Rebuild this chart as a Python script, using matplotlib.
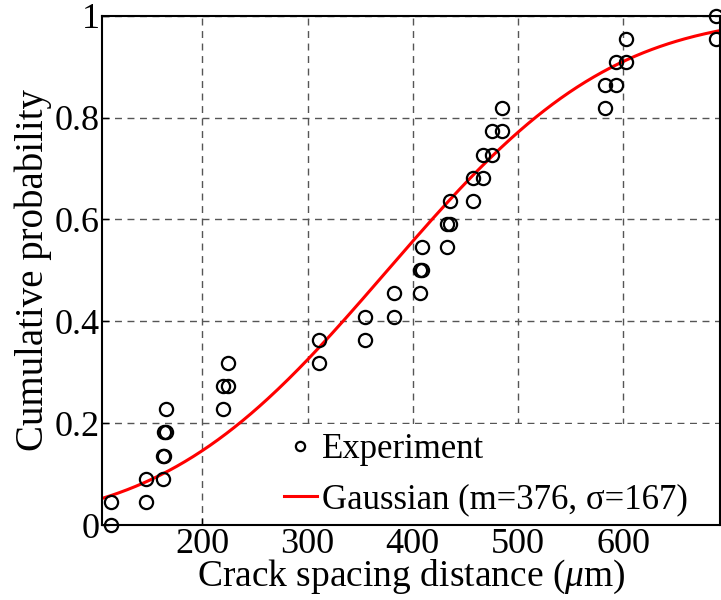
import math
import numpy as np
import matplotlib
matplotlib.use('Agg')
import matplotlib.pyplot as plt

# Empirical CDF points (each crack spacing appears at the step below and above)
crack_x = [113.5, 146.8, 162.9, 163.9, 165.8, 220.0, 224.7, 311.2, 355.0, 382.5, 407.2,
           409.1, 432.9, 435.7, 457.6, 467.1, 475.7, 485.2, 583.1, 593.5, 603.0, 688.6]
prob_lo = [0.000, 0.045, 0.091, 0.136, 0.182, 0.227, 0.273, 0.318, 0.364, 0.409, 0.455,
           0.500, 0.545, 0.591, 0.636, 0.682, 0.727, 0.773, 0.818, 0.864, 0.909, 0.955]
prob_hi = [0.045, 0.091, 0.136, 0.182, 0.227, 0.273, 0.318, 0.364, 0.409, 0.455, 0.500,
           0.545, 0.591, 0.636, 0.682, 0.727, 0.773, 0.818, 0.864, 0.909, 0.955, 1.000]

# Gaussian fit parameters
mean_fit = 376
sigma_fit = 167

x_ticks = [200, 300, 400, 500, 600]
y_ticks = [0, 0.2, 0.4, 0.6, 0.8, 1]
y_ticklabels = ['0', '0.2', '0.4', '0.6', '0.8', '1']

plt.rcParams['font.family'] = ['Liberation Serif', 'DejaVu Serif']
plt.rcParams['mathtext.fontset'] = 'custom'
plt.rcParams['mathtext.rm'] = 'Liberation Serif'
plt.rcParams['mathtext.it'] = 'Liberation Serif:italic'

fig = plt.figure(figsize=(7.21, 6.0), dpi=100)
ax = fig.add_axes([0.1419, 0.125, 0.8567, 0.8488])

xmin, xmax = 105, 692
xs = np.linspace(xmin, xmax, 300)
cdf = [0.5 * (1 + math.erf((v - mean_fit) / (sigma_fit * math.sqrt(2)))) for v in xs]

ax.plot(crack_x + crack_x, prob_lo + prob_hi, linestyle='none', marker='o',
        markersize=9.5, markerfacecolor='none', markeredgecolor='black',
        markeredgewidth=1.6, label='Experiment', zorder=2.4, clip_on=False)
ax.plot(xs, cdf, color='red', linewidth=2.2, label='Gaussian (m=376, σ=167)', zorder=2.3)

ax.set_xlim(xmin, xmax)
ax.set_ylim(0, 1)
ax.set_xticks(x_ticks)
ax.set_yticks(y_ticks)
ax.set_yticklabels(y_ticklabels)
ax.tick_params(direction='in', labelsize=26, length=5, width=1, pad=2)
ax.grid(True, linestyle=(0, (5, 4)), color='#555555', linewidth=1.0)
for s in ax.spines.values():
    s.set_linewidth(1.5)
    s.set_zorder(3)

ax.set_xlabel(r'Crack spacing distance ($\mu$m)', fontsize=27, labelpad=-2)
ax.set_ylabel('Cumulative probability', fontsize=28, labelpad=2)

leg = ax.legend(loc='lower left', bbox_to_anchor=(0.28, 0.0, 0.72, 0.196), mode='expand',
                fontsize=25, frameon=True, fancybox=False,
                facecolor='white', edgecolor='none', framealpha=1,
                borderaxespad=0.0, handlelength=0.95, handletextpad=0.15,
                markerscale=0.7, labelspacing=0.5, borderpad=0.25)
leg.set_zorder(2.45)

fig.savefig('out.png', dpi=100)
